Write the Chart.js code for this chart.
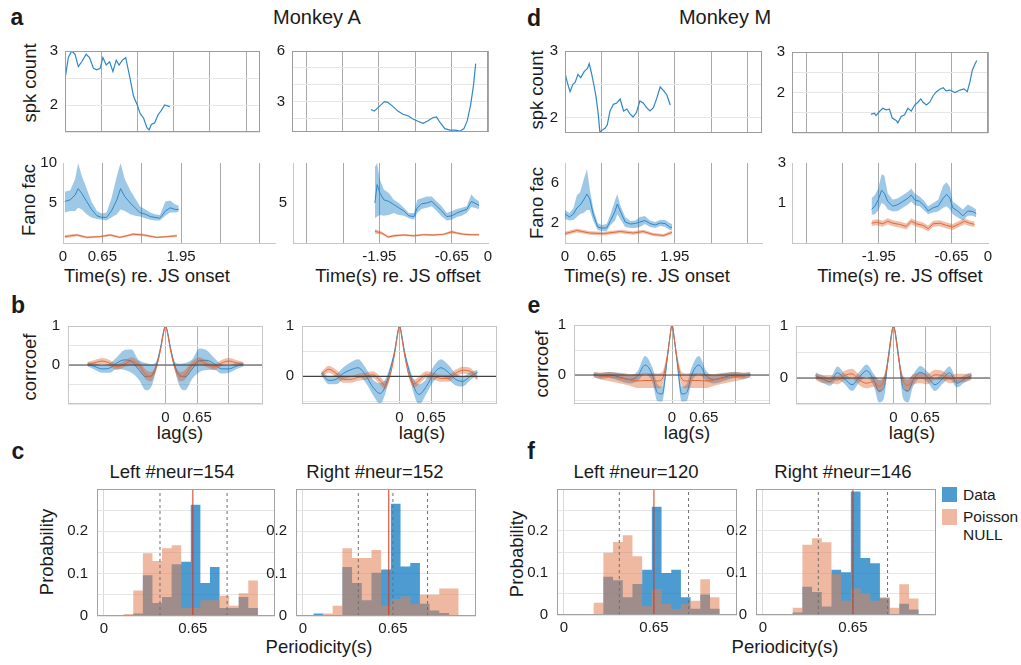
<!DOCTYPE html>
<html>
<head>
<meta charset="utf-8">
<script src="https://cdn.jsdelivr.net/npm/chart.js@4.4.1/dist/chart.umd.min.js"></script>
<style>
body { margin: 0; background: #fff; width: 1021px; height: 665px; position: relative; overflow: hidden;
       font-family: "Liberation Sans", Arial, sans-serif; color: #1a1a1a; }
canvas { position: absolute; }
.t { position: absolute; white-space: nowrap; font-size: 18.5px; transform: translate(-50%, -50%); }
.v { position: absolute; white-space: nowrap; font-size: 18.5px; transform: translate(-50%, -50%) rotate(-90deg); }
.lab { position: absolute; white-space: nowrap; font-size: 23px; font-weight: bold; transform: translate(-50%, -50%); }
.leg { position: absolute; white-space: nowrap; font-size: 15.5px; transform: translate(0, -50%); }
.sw { position: absolute; width: 15px; height: 15px; }
</style>
</head>
<body>

<div class="lab" style="left:17px;top:17px">a</div>
<div class="lab" style="left:18px;top:305px">b</div>
<div class="lab" style="left:18px;top:451px">c</div>
<div class="lab" style="left:534px;top:18px">d</div>
<div class="lab" style="left:534px;top:305px">e</div>
<div class="lab" style="left:531px;top:451px">f</div>

<div class="t" style="left:317px;top:17px;font-size:20px">Monkey A</div>
<div class="t" style="left:725px;top:17px;font-size:20px">Monkey M</div>

<div class="v" style="left:30px;top:83px">spk count</div>
<div class="v" style="left:537px;top:90px">spk count</div>
<div class="v" style="left:29px;top:200px">Fano fac</div>
<div class="v" style="left:537px;top:203px">Fano fac</div>
<div class="v" style="left:30px;top:367px">corrcoef</div>
<div class="v" style="left:542px;top:364px">corrcoef</div>
<div class="v" style="left:47px;top:552px">Probability</div>
<div class="v" style="left:517px;top:554px">Probability</div>

<div class="t" style="left:147px;top:276px">Time(s) re. JS onset</div>
<div class="t" style="left:398px;top:276px">Time(s) re. JS offset</div>
<div class="t" style="left:647px;top:276px">Time(s) re. JS onset</div>
<div class="t" style="left:900px;top:276px">Time(s) re. JS offset</div>

<div class="t" style="left:180px;top:433px">lag(s)</div>
<div class="t" style="left:422px;top:433px">lag(s)</div>
<div class="t" style="left:687px;top:433px">lag(s)</div>
<div class="t" style="left:912px;top:433px">lag(s)</div>

<div class="t" style="left:172px;top:472px">Left #neur=154</div>
<div class="t" style="left:375px;top:472px">Right #neur=152</div>
<div class="t" style="left:636px;top:472px">Left #neur=120</div>
<div class="t" style="left:843px;top:472px">Right #neur=146</div>

<div class="t" style="left:319px;top:647px">Periodicity(s)</div>
<div class="t" style="left:785px;top:647px">Periodicity(s)</div>

<div class="sw" style="left:942px;top:487px;background:rgba(0,114,189,0.7)"></div>
<div class="sw" style="left:942px;top:509px;height:16px;background:rgba(225,130,86,0.56)"></div>
<div class="leg" style="left:963px;top:495px">Data</div>
<div class="leg" style="left:963px;top:517px">Poisson</div>
<div class="leg" style="left:963px;top:535px">NULL</div>

<script>
// ---- spike count (row 1) ----
const spkOnA_t = [0.00,0.06,0.12,0.18,0.24,0.30,0.38,0.44,0.51,0.57,0.63,0.68,0.74,0.80,0.86,0.92,0.97,1.03,1.09,1.17,1.23,1.29,1.35,1.41,1.47,1.51,1.55,1.61,1.67,1.73,1.79,1.88];
const spkOnA   = [2.48,2.88,3.00,2.94,2.71,2.80,2.94,2.88,2.68,2.65,2.68,2.88,2.74,2.80,2.62,2.83,2.74,2.83,2.88,2.48,2.16,2.02,1.84,1.76,1.58,1.54,1.64,1.67,1.82,1.90,2.00,1.97];
const spkOffA_t = [-2.09,-2.03,-1.94,-1.85,-1.79,-1.70,-1.61,-1.52,-1.43,-1.34,-1.25,-1.16,-1.07,-0.98,-0.92,-0.86,-0.77,-0.68,-0.59,-0.50,-0.43,-0.37,-0.31,-0.26,-0.22];
const spkOffA   = [2.53,2.44,2.72,3.00,2.96,2.72,2.44,2.25,2.16,1.97,1.84,1.72,1.87,2.06,2.10,1.78,1.40,1.31,1.31,1.25,1.40,1.87,2.81,3.94,5.25];
const spkOnM_t = [0.00,0.04,0.09,0.14,0.18,0.23,0.28,0.34,0.40,0.43,0.47,0.52,0.55,0.59,0.62,0.67,0.71,0.75,0.80,0.86,0.92,0.98,1.04,1.10,1.15,1.21,1.27,1.33,1.39,1.45,1.51,1.57,1.63,1.69,1.75,1.81,1.87];
const spkOnM   = [2.67,2.53,2.39,2.50,2.53,2.65,2.60,2.69,2.74,2.81,2.67,2.46,2.32,2.06,1.78,1.82,1.84,1.89,2.10,2.20,2.22,2.28,2.10,2.13,2.06,2.01,2.08,2.25,2.22,2.15,2.10,2.15,2.29,2.46,2.41,2.34,2.19];
const spkOffM_t = [-2.09,-2.03,-2.00,-1.94,-1.88,-1.82,-1.76,-1.71,-1.64,-1.61,-1.55,-1.49,-1.43,-1.37,-1.31,-1.25,-1.20,-1.16,-1.10,-1.04,-0.98,-0.92,-0.86,-0.80,-0.75,-0.68,-0.59,-0.50,-0.43,-0.37,-0.32,-0.28,-0.23,-0.20];
const spkOffM   = [1.46,1.49,1.43,1.53,1.61,1.57,1.59,1.37,1.31,1.25,1.41,1.45,1.61,1.54,1.69,1.76,1.84,1.76,1.69,1.76,1.92,2.02,2.08,2.12,2.04,2.06,2.00,2.06,2.09,2.02,2.28,2.55,2.71,2.79];

// ---- Fano factor (row 2): data mean with band, Poisson null with sem ----
const fanoOnA_t  = [0.03,0.12,0.20,0.25,0.31,0.39,0.47,0.56,0.64,0.72,0.80,0.89,0.95,1.02,1.11,1.19,1.27,1.36,1.44,1.52,1.60,1.69,1.77,1.85,1.91];
const fanoOnA    = [5.2,5.4,6.0,6.8,6.2,5.2,4.2,3.4,3.2,3.2,4.0,5.4,6.8,5.8,5.0,4.4,3.8,3.6,3.3,3.2,3.1,4.0,4.4,4.2,4.2];
const fanoOnA_hi = [6.4,6.6,8.0,10.0,8.4,6.8,5.2,4.0,3.7,3.8,5.6,8.4,10.0,8.0,6.6,5.6,4.6,4.2,3.8,3.6,3.5,5.2,5.3,4.8,4.7];
const fanoOnA_lo = [3.8,4.0,4.0,4.4,4.2,3.6,3.2,3.0,2.9,2.8,3.2,3.6,4.2,4.0,3.6,3.4,3.3,3.1,2.9,2.8,2.8,3.4,3.8,3.8,3.9];
const nullOnA_t   = [0.03,0.23,0.39,0.61,0.78,0.94,1.16,1.33,1.55,1.72,1.88];
const nullOnA     = [0.8,1.0,0.7,0.8,1.0,0.7,1.1,1.0,0.7,0.8,0.9];
const nullOnA_err = [0.2,0.15,0.15,0.12,0.15,0.12,0.15,0.15,0.12,0.12,0.15];

const fanoOffA_t  = [-2.03,-1.99,-1.94,-1.87,-1.78,-1.69,-1.60,-1.51,-1.42,-1.33,-1.27,-1.19,-1.10,-1.01,-0.92,-0.83,-0.74,-0.65,-0.56,-0.47,-0.38,-0.30,-0.24,-0.16];
const fanoOffA    = [5.0,7.3,6.25,5.4,5.2,4.8,4.4,4.0,3.4,3.3,4.4,4.9,5.0,5.2,4.6,4.0,3.3,3.4,3.75,4.0,4.2,5.2,5.0,4.7];
const fanoOffA_hi = [9.5,10.0,7.9,6.7,6.25,5.4,5.0,4.4,3.75,3.75,5.4,5.6,5.8,5.8,5.2,4.6,3.75,4.0,4.25,4.4,4.6,6.1,5.6,5.2];
const fanoOffA_lo = [3.1,3.3,3.5,3.4,3.5,3.75,3.5,3.4,3.1,2.9,3.75,4.25,4.4,4.6,4.0,3.3,2.8,2.9,3.25,3.4,3.75,4.5,4.4,4.2];
const nullOffA_t   = [-2.03,-1.91,-1.79,-1.69,-1.51,-1.33,-1.16,-0.98,-0.80,-0.65,-0.56,-0.44,-0.32,-0.16];
const nullOffA     = [1.46,1.25,0.75,0.9,1.0,0.9,1.04,1.0,1.08,1.4,1.25,1.1,1.04,1.04];
const nullOffA_err = [0.3,0.2,0.15,0.15,0.12,0.12,0.12,0.12,0.12,0.2,0.15,0.12,0.12,0.12];

const fanoOnM_t  = [0.00,0.08,0.15,0.21,0.27,0.33,0.39,0.44,0.50,0.58,0.65,0.74,0.81,0.89,0.93,0.98,1.07,1.16,1.25,1.33,1.42,1.51,1.60,1.69,1.78,1.86,1.90];
const fanoOnM    = [2.9,2.6,2.9,3.5,3.8,4.3,4.9,4.4,2.9,1.6,1.5,1.5,2.25,3.2,3.9,3.2,2.1,1.9,1.95,2.1,2.25,1.95,1.8,2.0,1.95,1.6,1.55];
const fanoOnM_hi = [3.3,3.0,3.5,4.75,5.1,6.3,7.4,5.4,3.5,2.0,1.8,1.9,2.9,4.3,4.9,3.8,2.6,2.2,2.25,2.6,2.7,2.25,2.1,2.3,2.3,2.0,1.9];
const fanoOnM_lo = [2.4,2.25,2.3,2.6,2.9,3.0,3.3,3.3,2.25,1.3,1.2,1.2,1.8,2.25,2.9,2.4,1.6,1.5,1.5,1.6,1.9,1.6,1.5,1.7,1.6,1.3,1.3];
const nullOnM_t   = [0.00,0.21,0.44,0.68,0.98,1.21,1.39,1.57,1.75,1.90];
const nullOnM     = [0.94,1.25,1.0,0.94,1.15,1.0,1.15,0.85,0.75,1.06];
const nullOnM_err = [0.18,0.2,0.18,0.18,0.18,0.18,0.18,0.16,0.16,0.18];

const fanoOffM_t  = [-2.08,-2.02,-1.96,-1.90,-1.85,-1.79,-1.70,-1.61,-1.52,-1.43,-1.37,-1.31,-1.22,-1.13,-1.07,-0.98,-0.89,-0.80,-0.74,-0.68,-0.63,-0.54,-0.45,-0.36,-0.27,-0.21];
const fanoOffM    = [0.68,0.84,1.16,1.64,1.48,1.08,0.84,0.92,1.08,1.24,1.4,1.16,1.08,0.84,0.6,0.76,0.84,1.24,1.43,1.24,0.76,0.6,0.36,0.6,0.57,0.47];
const fanoOffM_hi = [1.24,1.4,1.72,2.44,2.36,1.48,1.16,1.24,1.4,1.56,1.72,1.48,1.32,1.08,0.84,1.0,1.16,1.88,2.04,1.8,1.08,0.89,0.68,0.92,0.79,0.68];
const fanoOffM_lo = [0.41,0.44,0.63,1.0,0.92,0.68,0.57,0.6,0.76,0.92,1.08,0.89,0.84,0.6,0.44,0.52,0.57,0.76,0.84,0.68,0.44,0.28,0.12,0.36,0.36,0.28];
const nullOffM_t   = [-2.08,-1.99,-1.88,-1.79,-1.70,-1.58,-1.46,-1.37,-1.28,-1.16,-1.07,-0.98,-0.86,-0.74,-0.63,-0.51,-0.42,-0.33,-0.24];
const nullOffM     = [-0.01,0.04,-0.04,0.09,-0.01,-0.07,-0.17,0.09,-0.04,-0.12,-0.28,-0.04,-0.01,-0.12,-0.2,-0.04,0.09,-0.01,-0.07];
const nullOffM_err = [0.14,0.15,0.15,0.15,0.15,0.15,0.15,0.15,0.15,0.15,0.15,0.15,0.15,0.15,0.15,0.15,0.15,0.14,0.14];

// ---- autocorrelation (row 3): mean and sd ----
const lagGrid = [-1.6,-1.45,-1.3,-1.15,-1.0,-0.85,-0.7,-0.55,-0.4,-0.3,-0.2,-0.1,-0.05,0,0.05,0.1,0.2,0.3,0.4,0.55,0.7,0.85,1.0,1.15,1.3,1.45,1.6];
const ccDataAL    = [0.02,-0.04,-0.1,-0.08,0.05,0.13,0.1,-0.12,-0.3,-0.28,-0.05,0.45,0.8,1.0,0.8,0.45,-0.05,-0.27,-0.3,-0.1,0.12,0.12,0.03,-0.1,-0.1,-0.03,0.02];
const ccDataAL_sd = [0.05,0.08,0.1,0.12,0.15,0.25,0.3,0.25,0.35,0.3,0.12,0.06,0.04,0.02,0.04,0.06,0.12,0.3,0.35,0.25,0.3,0.25,0.15,0.12,0.1,0.08,0.05];
const ccNullAL    = [0.02,0.06,0.1,0.05,-0.05,0.02,0.1,0.0,-0.25,-0.3,-0.1,0.4,0.75,1.0,0.75,0.4,-0.1,-0.3,-0.25,0.0,0.1,0.02,-0.05,0.05,0.1,0.06,0.02];
const ccNullAL_sd = [0.06,0.07,0.08,0.08,0.08,0.08,0.1,0.1,0.12,0.12,0.08,0.05,0.03,0.02,0.03,0.05,0.08,0.12,0.12,0.1,0.1,0.08,0.08,0.08,0.08,0.07,0.06];
const ccDataAR    = [0.06,-0.08,-0.06,0.06,0.13,0.17,0.03,-0.21,-0.34,-0.22,0.1,0.5,0.8,1.0,0.8,0.5,0.1,-0.22,-0.36,-0.2,0.05,0.17,0.08,-0.06,-0.1,0.0,0.08];
const ccDataAR_sd = [0.05,0.08,0.1,0.12,0.15,0.17,0.15,0.15,0.2,0.15,0.08,0.05,0.03,0.02,0.03,0.05,0.08,0.15,0.2,0.15,0.15,0.17,0.15,0.12,0.1,0.08,0.05];
const ccNullAR    = [0.04,0.14,0.06,-0.06,-0.06,-0.02,0.0,0.03,-0.08,-0.18,0.0,0.45,0.75,1.0,0.75,0.45,0.0,-0.15,-0.08,0.03,0.0,-0.04,-0.04,0.06,0.12,0.1,-0.04];
const ccNullAR_sd = [0.05,0.07,0.07,0.07,0.07,0.07,0.07,0.07,0.08,0.08,0.06,0.04,0.03,0.02,0.03,0.04,0.06,0.08,0.08,0.07,0.07,0.07,0.07,0.07,0.07,0.07,0.05];
const ccDataML    = [0.01,-0.02,0.0,-0.02,-0.06,-0.09,-0.02,0.2,0.0,-0.35,-0.38,0.3,0.7,1.0,0.7,0.3,-0.38,-0.35,0.0,0.2,-0.02,-0.09,-0.06,-0.02,0.0,-0.02,0.01];
const ccDataML_sd = [0.05,0.06,0.06,0.07,0.08,0.08,0.1,0.18,0.15,0.17,0.15,0.08,0.05,0.02,0.05,0.08,0.15,0.17,0.15,0.18,0.1,0.08,0.08,0.07,0.06,0.06,0.05];
const ccNullML    = [0.0,-0.02,-0.03,-0.05,-0.07,-0.1,-0.12,-0.11,-0.11,-0.12,-0.08,0.35,0.7,1.0,0.7,0.35,-0.08,-0.12,-0.11,-0.11,-0.12,-0.1,-0.07,-0.05,-0.03,-0.02,0.0];
const ccNullML_sd = [0.05,0.07,0.09,0.1,0.11,0.12,0.14,0.15,0.15,0.15,0.14,0.08,0.05,0.02,0.05,0.08,0.14,0.15,0.15,0.15,0.14,0.12,0.11,0.1,0.09,0.07,0.05];
const ccDataMR    = [0.05,-0.02,-0.07,0.1,-0.02,-0.13,0.02,0.14,-0.05,-0.25,-0.2,0.45,0.8,1.0,0.8,0.45,-0.2,-0.25,-0.05,0.11,0.02,-0.13,-0.02,0.1,-0.1,-0.02,0.05];
const ccDataMR_sd = [0.06,0.07,0.08,0.12,0.1,0.12,0.1,0.12,0.12,0.22,0.2,0.08,0.05,0.02,0.05,0.08,0.2,0.22,0.12,0.12,0.1,0.12,0.1,0.12,0.08,0.07,0.06];
const ccNullMR    = [0.02,-0.02,-0.02,-0.04,0.05,0.08,-0.04,-0.1,-0.07,-0.16,-0.06,0.4,0.75,1.0,0.75,0.4,-0.06,-0.14,-0.03,0.0,-0.02,0.06,0.05,-0.02,0.0,0.0,0.02];
const ccNullMR_sd = [0.06,0.08,0.08,0.08,0.09,0.1,0.1,0.1,0.1,0.12,0.1,0.06,0.04,0.02,0.04,0.06,0.1,0.12,0.1,0.1,0.1,0.1,0.09,0.08,0.08,0.08,0.06];

// ---- periodicity histograms (row 4): 15 bins between these edges ----
const binEdges = [0.075,0.145,0.215,0.285,0.355,0.425,0.495,0.565,0.635,0.705,0.775,0.845,0.915,0.985,1.055,1.125];
const histDataAL = [0,0,0.006,0.096,0.031,0.045,0.122,0.128,0.263,0.078,0.116,0.019,0.019,0.045,0.019];
const histNullAL = [0,0.005,0.06,0.148,0.13,0.16,0.167,0.019,0.019,0.037,0.037,0.048,0.024,0.054,0.084];
const histDataAR = [0.006,0,0,0.116,0.078,0.037,0.102,0.11,0.265,0.117,0.125,0.029,0.013,0.007,0];
const histNullAR = [0,0.006,0.024,0.16,0.137,0.137,0.156,0.024,0.04,0.046,0.029,0.05,0.05,0.065,0.065];
const histDataML = [0,0,0,0.091,0.083,0.042,0.074,0.108,0.258,0.1,0.108,0.042,0.015,0.049,0.015];
const histNullML = [0,0,0.029,0.148,0.174,0.19,0.14,0.021,0.062,0.027,0.014,0.027,0.034,0.085,0.042];
const histDataMR = [0,0,0.006,0.067,0.055,0.02,0.108,0.102,0.294,0.136,0.123,0.04,0,0.027,0.013];
const histNullMR = [0,0,0.017,0.167,0.183,0.173,0.097,0.034,0.063,0.052,0.034,0.042,0.017,0.073,0.039];
const dashAL = [0.41, 0.90], redAL = 0.65;
const dashAR = [0.40, 0.65, 0.90], redAR = 0.62;
const dashML = [0.40, 0.90], redML = 0.65;
const dashMR = [0.40, 0.65, 0.90], redMR = 0.65;

// ---- ticks ----
const onsetGrid = [0, 0.65, 1.3, 1.95, 2.6, 3.25];
const onsetLabels = [0, 0.65, 1.95];
const offsetGrid = [-3.25, -2.6, -1.95, -1.3, -0.65, 0];
const offsetLabels = [-1.95, -0.65, 0];
const lagTicks = [0, 0.65, 1.3];
const lagLabels = [0, 0.65];
const perTicks = [0, 0.65];
const probTicks = [0, 0.05, 0.1, 0.15, 0.2, 0.25, 0.3];
const probLabels = [0, 0.1, 0.2];

const BLUE_LINE = '#2f86c9';
const BLUE_BAND = 'rgba(0,114,189,0.38)';
const ORANGE_LINE = '#de6a3c';
const ORANGE_BAND = 'rgba(217,83,25,0.38)';
const HIST_BLUE = 'rgba(0,114,189,0.7)';
const HIST_ORANGE = 'rgba(225,130,86,0.56)';
const GRID_V = '#a9a9a9';
const GRID_H = '#e6e6e6';

Chart.defaults.font.family = '"Liberation Sans", Arial, sans-serif';
Chart.defaults.font.size = 15;
Chart.defaults.color = '#1a1a1a';

Chart.register({
    id: 'frame',
    afterDatasetsDraw(chart, args, opts) {
        if (!opts.color) return;
        const a = chart.chartArea;
        const ctx = chart.ctx;
        ctx.save();
        ctx.strokeStyle = opts.color;
        ctx.lineWidth = 1;
        ctx.strokeRect(Math.round(a.left) + 0.5, Math.round(a.top) + 0.5,
            Math.round(a.right - a.left) - 1, Math.round(a.bottom - a.top) - 1);
        ctx.restore();
    }
});

function pts(xs, ys) {
    return xs.map((x, i) => ({ x: x, y: ys[i] }));
}

function axis(min, max, tickList, labelList, gridColor) {
    return {
        type: 'linear', min: min, max: max,
        afterBuildTicks: a => { a.ticks = tickList.map(v => ({ value: v })); },
        ticks: { autoSkip: false, maxRotation: 0, padding: 5,
                 callback: v => labelList.includes(v) ? String(v) : '' },
        grid: { color: gridColor, drawTicks: false },
        border: { display: false }
    };
}

const PAD = { l: 50, r: 12, t: 12, b: 34 };

function makePanel(box, datasets, x, y, frameColor) {
    const c = document.createElement('canvas');
    const w = box.r - box.l + PAD.l + PAD.r;
    const h = box.b - box.t + PAD.t + PAD.b;
    c.width = w;
    c.height = h;
    c.style.left = (box.l - PAD.l) + 'px';
    c.style.top = (box.t - PAD.t) + 'px';
    c.style.width = w + 'px';
    c.style.height = h + 'px';
    document.body.appendChild(c);
    x.afterFit = s => { s.height = PAD.b; };
    y.afterFit = s => { s.width = PAD.l; };
    return new Chart(c, {
        type: 'line',
        data: { datasets: datasets },
        options: {
            responsive: false,
            animation: false,
            devicePixelRatio: 1,
            layout: { autoPadding: false, padding: { left: 0, top: PAD.t, right: PAD.r, bottom: 0 } },
            plugins: { legend: { display: false }, tooltip: { enabled: false }, frame: { color: frameColor } },
            scales: { x: x, y: y }
        }
    });
}

function line(xs, ys, color, width, smooth) {
    return { data: pts(xs, ys), borderColor: color, borderWidth: width, pointRadius: 0, fill: false,
             tension: 0, cubicInterpolationMode: smooth ? 'monotone' : 'default' };
}

function band(xs, lo, hi, color, smooth) {
    const mode = smooth ? 'monotone' : 'default';
    return [
        { data: pts(xs, hi), borderWidth: 0, borderColor: 'rgba(0,0,0,0)', backgroundColor: color,
          pointRadius: 0, fill: '+1', cubicInterpolationMode: mode },
        { data: pts(xs, lo), borderWidth: 0, borderColor: 'rgba(0,0,0,0)', pointRadius: 0, fill: false,
          cubicInterpolationMode: mode }
    ];
}

function withErr(mean, err, sign) {
    return mean.map((m, i) => m + sign * err[i]);
}

// ---- row 1: spike count ----
function spkPanel(box, ts, vals, xmin, xmax, grid, yMin, yMax, yTicks, yLabels) {
    const x = axis(xmin, xmax, grid, [], GRID_V);
    x.ticks.display = false;
    const y = axis(yMin, yMax, yTicks, yLabels, GRID_H);
    y.ticks.padding = 7;
    makePanel(box, [line(ts, vals, BLUE_LINE, 1.2, false)], x, y, '#9c9c9c');
}
spkPanel({ l: 65, t: 47, r: 260, b: 132 }, spkOnA_t, spkOnA, 0, 3.5, onsetGrid, 1.5, 3, [1.5, 2, 2.5, 3], [2, 3]);
spkPanel({ l: 292, t: 47, r: 488, b: 132 }, spkOffA_t, spkOffA, -3.5, 0, offsetGrid, 1.2, 6, [2, 3, 4, 5, 6], [3, 6]);
spkPanel({ l: 565, t: 47, r: 762, b: 133 }, spkOnM_t, spkOnM, 0, 3.5, onsetGrid, 1.77, 3, [2, 2.5, 3], [2, 3]);
spkPanel({ l: 792, t: 48, r: 988, b: 133 }, spkOffM_t, spkOffM, -3.5, 0, offsetGrid, 1, 3, [1, 1.5, 2, 2.5, 3], [2, 3]);

// ---- row 2: Fano factor ----
function fanoPanel(box, d, xmin, xmax, grid, labels, yMin, yMax, yTicks, yLabels) {
    const x = axis(xmin, xmax, grid, labels,
        ctx => (ctx.tick && ctx.tick.value === 0) ? 'rgba(0,0,0,0)' : GRID_V);
    x.border = { display: true, color: '#c6c6c6' };
    const y = axis(yMin, yMax, yTicks, yLabels, 'rgba(0,0,0,0)');
    y.border = { display: true, color: '#c6c6c6' };
    y.ticks.padding = 6;
    const datasets = [line(d.nt, d.nm, ORANGE_LINE, 1, false)]
        .concat(band(d.nt, withErr(d.nm, d.ne, -1), withErr(d.nm, d.ne, 1), ORANGE_BAND, false))
        .concat([line(d.t, d.m, BLUE_LINE, 1, false)])
        .concat(band(d.t, d.lo, d.hi, BLUE_BAND, false));
    makePanel(box, datasets, x, y, null);
}
fanoPanel({ l: 63, t: 160, r: 275, b: 243 },
    { t: fanoOnA_t, m: fanoOnA, lo: fanoOnA_lo, hi: fanoOnA_hi, nt: nullOnA_t, nm: nullOnA, ne: nullOnA_err },
    0, 3.5, onsetGrid, onsetLabels, 0, 10, [0, 5, 10], [5, 10]);
fanoPanel({ l: 293, t: 160, r: 488, b: 243 },
    { t: fanoOffA_t, m: fanoOffA, lo: fanoOffA_lo, hi: fanoOffA_hi, nt: nullOffA_t, nm: nullOffA, ne: nullOffA_err },
    -3.5, 0, offsetGrid, offsetLabels, 0, 10, [0, 5, 10], [5]);
fanoPanel({ l: 565, t: 160, r: 762, b: 243 },
    { t: fanoOnM_t, m: fanoOnM, lo: fanoOnM_lo, hi: fanoOnM_hi, nt: nullOnM_t, nm: nullOnM, ne: nullOnM_err },
    0, 3.5, onsetGrid, onsetLabels, 0, 8, [2, 6], [2, 6]);
fanoPanel({ l: 792, t: 160, r: 988, b: 243 },
    { t: fanoOffM_t, m: fanoOffM, lo: fanoOffM_lo, hi: fanoOffM_hi, nt: nullOffM_t, nm: nullOffM, ne: nullOffM_err },
    -3.5, 0, offsetGrid, offsetLabels, -1, 3, [1, 3], [1, 3]);

// ---- row 3: autocorrelation ----
function ccPanel(box, dm, dsd, nm, nsd, yMin, yTicks) {
    const x = axis(-2, 2, lagTicks, lagLabels, '#b2b2b2');
    const y = axis(yMin, 1, yTicks, [0, 1], GRID_H);
    y.ticks.padding = 8;
    const zero = { data: pts([-2, 2], [0, 0]), borderColor: '#404040', borderWidth: 1.2,
                   pointRadius: 0, fill: false, order: -1 };
    const datasets = [zero, line(lagGrid, nm, ORANGE_LINE, 1, true)]
        .concat(band(lagGrid, withErr(nm, nsd, -1), withErr(nm, nsd, 1), ORANGE_BAND, true))
        .concat([line(lagGrid, dm, BLUE_LINE, 1, true)])
        .concat(band(lagGrid, withErr(dm, dsd, -1), withErr(dm, dsd, 1), BLUE_BAND, true));
    makePanel(box, datasets, x, y, '#c6c6c6');
}
ccPanel({ l: 68, t: 321, r: 263, b: 404 }, ccDataAL, ccDataAL_sd, ccNullAL, ccNullAL_sd, -1, [-1, -0.5, 0, 0.5, 1]);
ccPanel({ l: 302, t: 321, r: 497, b: 404 }, ccDataAR, ccDataAR_sd, ccNullAR, ccNullAR_sd, -0.55, [-0.5, 0, 0.5, 1]);
ccPanel({ l: 574, t: 320, r: 770, b: 404 }, ccDataML, ccDataML_sd, ccNullML, ccNullML_sd, -0.58, [-0.5, 0, 0.5, 1]);
ccPanel({ l: 796, t: 321, r: 991, b: 404 }, ccDataMR, ccDataMR_sd, ccNullMR, ccNullMR_sd, -0.5, [-0.5, 0, 0.5, 1]);

// ---- row 4: periodicity histograms, drawn as filled step lines ----
function histSeries(vals, color, order) {
    // last value repeated so the final bin closes at the right edge
    return { data: pts(binEdges, vals.concat([vals[vals.length - 1]])), stepped: 'before',
             borderWidth: 0, borderColor: 'rgba(0,0,0,0)', backgroundColor: color,
             pointRadius: 0, fill: 'origin', order: order };
}
function vline(xv, color, dash) {
    return { data: pts([xv, xv], [0, 0.3]), borderColor: color, borderDash: dash,
             borderWidth: 1, pointRadius: 0, fill: false, order: 0 };
}
function histPanel(box, data, nul, dashes, red) {
    const x = axis(-0.05, 1.25, perTicks, perTicks,
        ctx => (ctx.tick && ctx.tick.value === 0) ? '#dadada' : 'rgba(0,0,0,0)');
    x.ticks.padding = 4;
    const y = axis(0, 0.3, probTicks, probLabels, GRID_H);
    y.ticks.padding = 9;
    const datasets = [
        histSeries(nul, HIST_ORANGE, 1),
        histSeries(data, HIST_BLUE, 2)
    ];
    dashes.forEach(v => datasets.push(vline(v, '#6f6f6f', [3, 3])));
    datasets.push(vline(red, '#d8361c', []));
    makePanel(box, datasets, x, y, '#a2a2a2');
}
histPanel({ l: 97, t: 483, r: 275, b: 616 }, histDataAL, histNullAL, dashAL, redAL);
histPanel({ l: 296, t: 483, r: 476, b: 616 }, histDataAR, histNullAR, dashAR, redAR);
histPanel({ l: 557, t: 483, r: 737, b: 615 }, histDataML, histNullML, dashML, redML);
histPanel({ l: 756, t: 483, r: 936, b: 615 }, histDataMR, histNullMR, dashMR, redMR);
</script>
</body>
</html>
